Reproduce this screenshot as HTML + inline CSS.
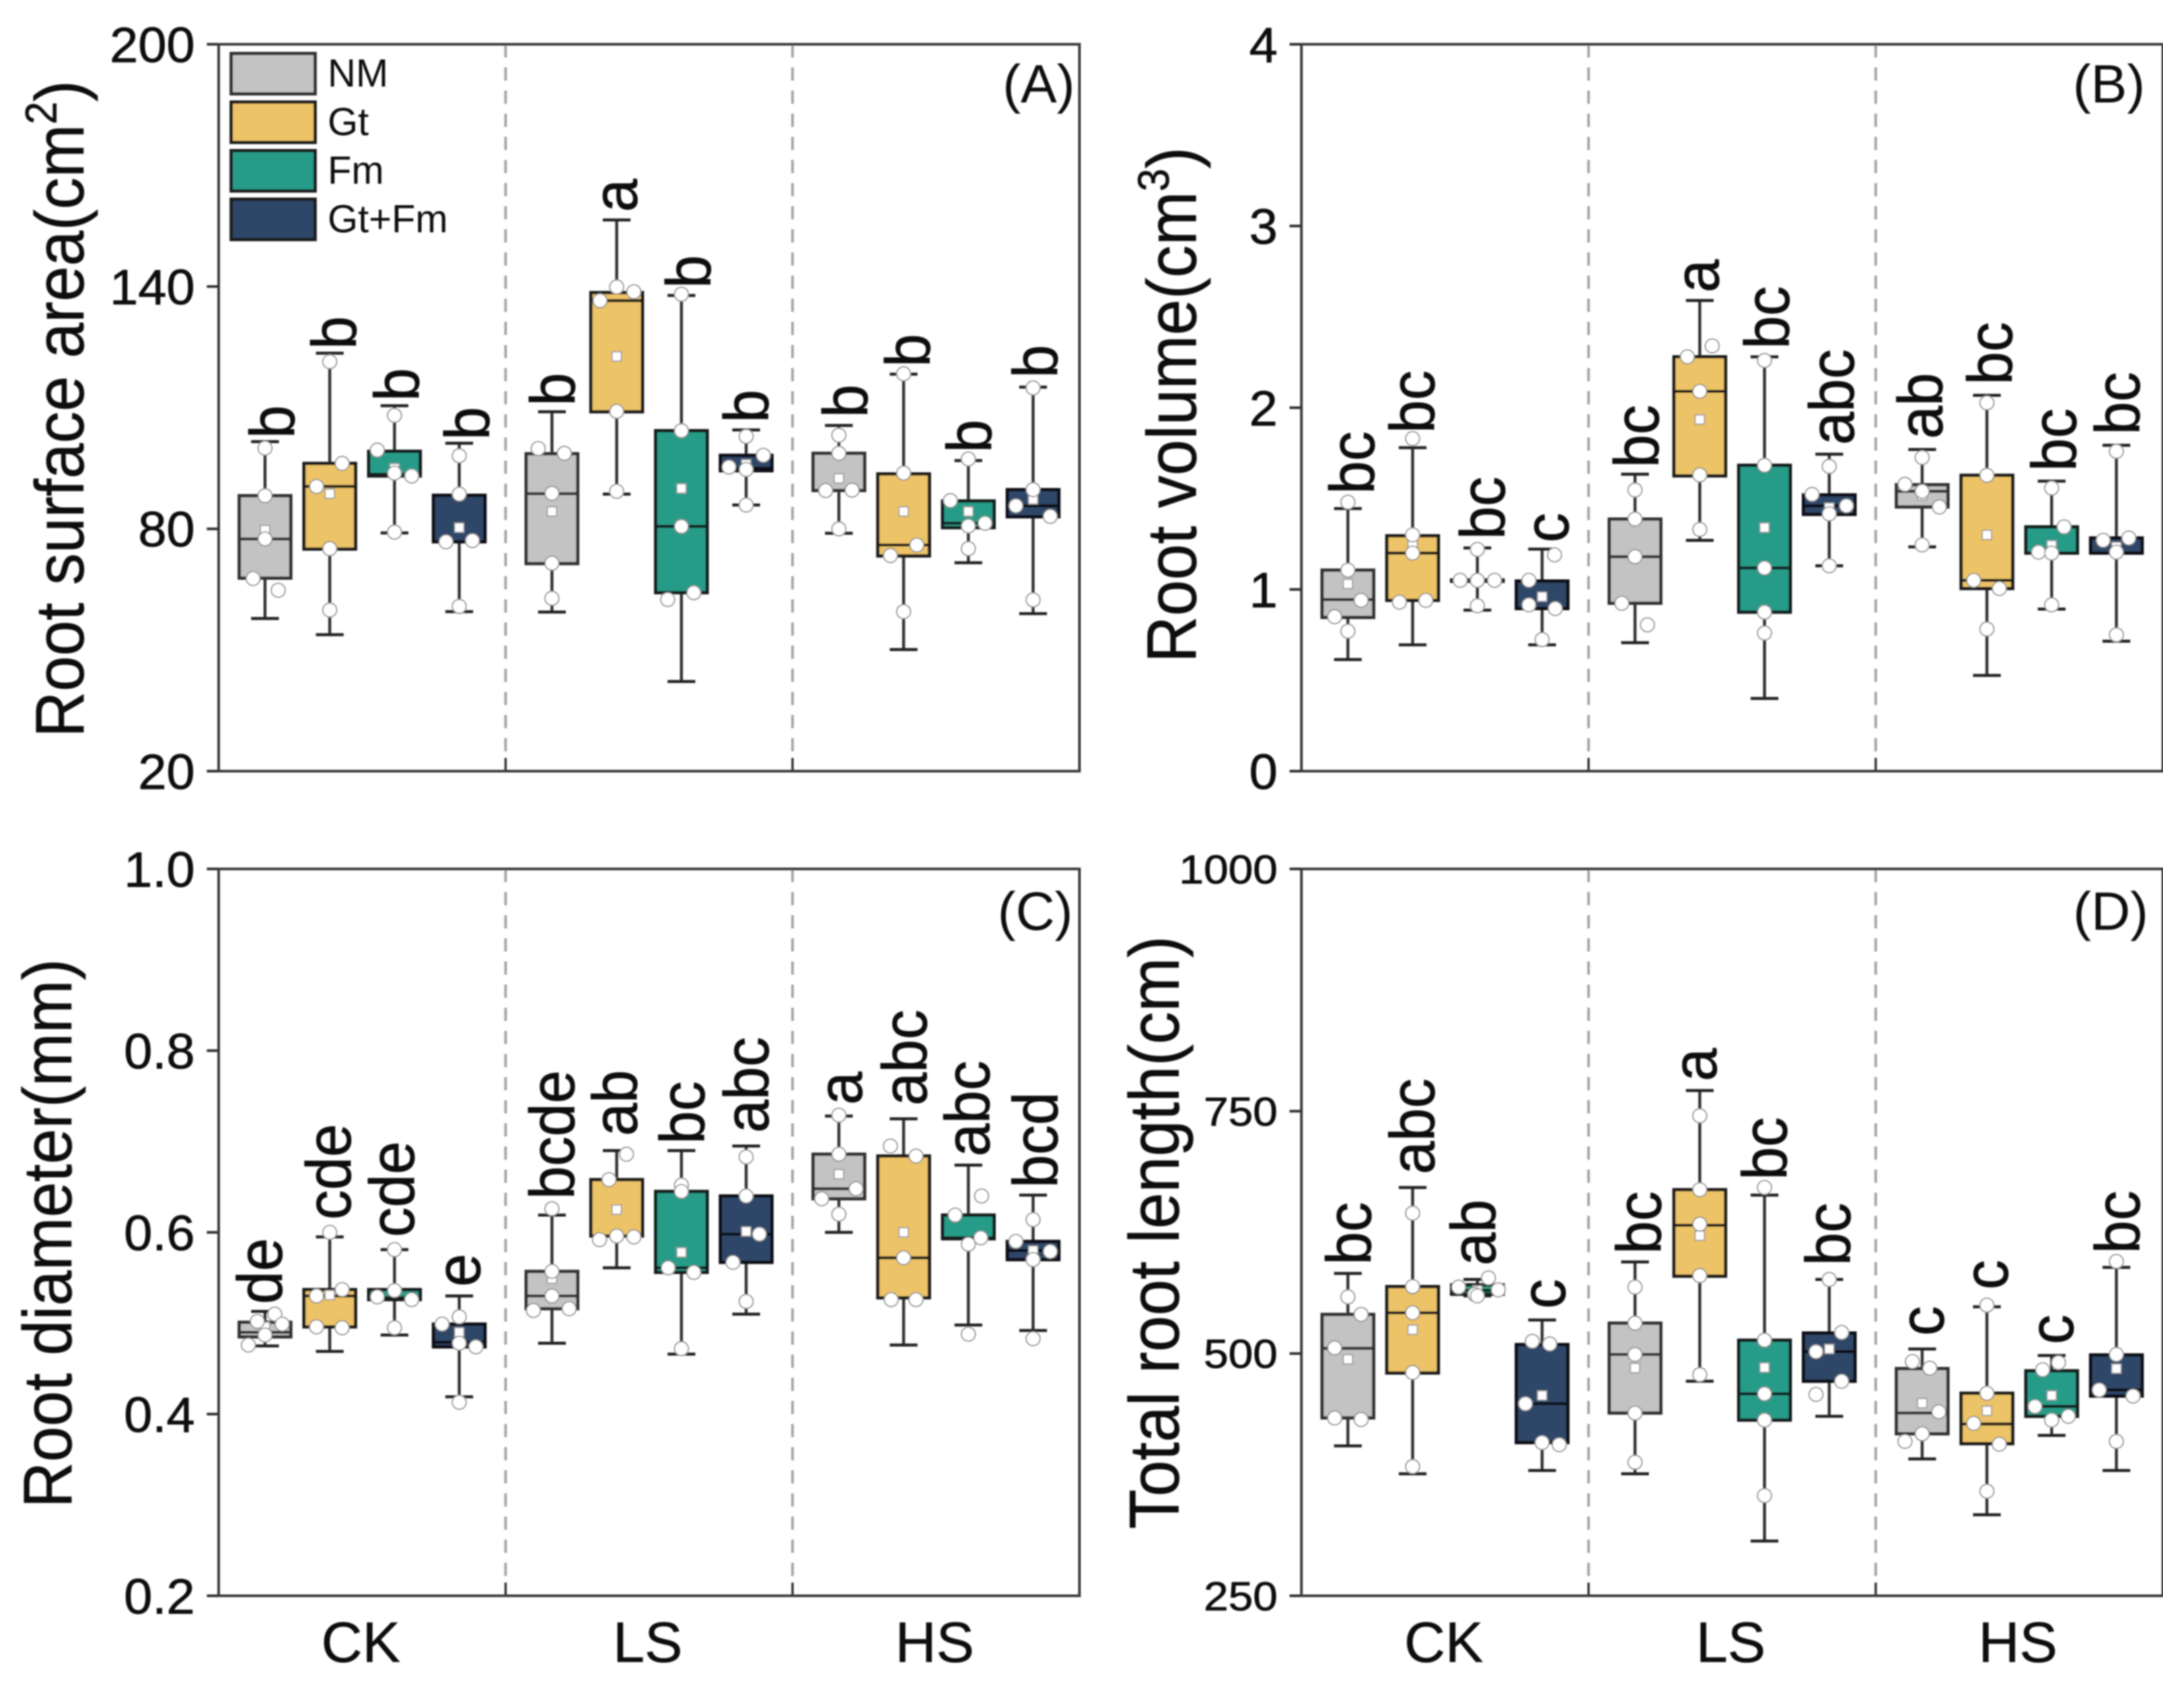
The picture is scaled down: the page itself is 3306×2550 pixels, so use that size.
<!DOCTYPE html>
<html lang="en">
<head>
<meta charset="utf-8">
<title>Root traits box plots</title>
<style>
html,body{margin:0;padding:0;background:#fff;}
svg{display:block;}
text{font-family:"Liberation Sans",Arial,sans-serif;fill:#111;}
</style>
</head>
<body>
<svg id="chart" xmlns="http://www.w3.org/2000/svg" width="3306" height="2550" viewBox="0 0 3306 2550">
<defs><filter id="soft" x="0" y="0" width="100%" height="100%"><feGaussianBlur stdDeviation="1.1"/></filter></defs>
<rect width="3306" height="2550" fill="#ffffff"/>
<g id="root" filter="url(#soft)"></g>
</svg>
<script>
const categories = ['CK','LS','HS'];
const treatments = ['NM','Gt','Fm','Gt+Fm'];

const aTicks = ['20','80','140','200'];
const aLow = [57.8,53.8,79,59.5,59.4,88.6,42.2,85.9,78.9,50.1,71.6,59];
const aQ1 = [67.8,75,93.1,76.8,71.4,109,64.2,94.4,89.5,73.3,80.3,83];
const aMedian = [77.5,90.5,93.5,76.8,88.7,136.5,80.6,95,89.5,76,81.4,85.7];
const aQ3 = [88.2,96.2,99.2,88.3,98.6,138.5,104.3,98.2,98.7,93.6,86.9,89.7];
const aHigh = [101.6,123.5,110.5,101.2,109,156.5,137.8,104.5,105.6,118.3,96.9,115.1];
const aMean = [79.7,88.7,95,80.3,84.3,122.7,90,96,92.5,84.3,84.3,87.3];
const aPoints = [
 [100,88.2,77.5,67.7,64.8],[121.4,96.2,90.5,75.1,59.9],[108.1,99.5,93.8,93.1,79.2],[98.1,88.6,76.8,77.1,60.8],
 [99.9,98.7,88.8,71.5,62.8],[139.9,136.5,138.7,109.1,89.3],[138.1,104.3,80.6,64.2,62.5],[102.9,98.2,95.3,94.7,85.9],
 [103.2,98.7,89.5,89.6,80],[118.4,93.8,76,73.4,59.5],[97.3,87,80.7,81.4,75.1],[114.9,89.7,85.7,83.1,62.4]];
const aDodge = [
 [0,0,0,-.45,.5],[0,.47,-.5,0,0],[0,-.65,0,.65,0],[0,0,-.5,.5,0],
 [-.52,.47,0,0,0],[0,-.63,.65,0,0],[0,0,0,.47,-.52],[0,.65,-.65,0,0],
 [0,0,-.5,.5,0],[0,0,.5,-.5,0],[0,-.68,0,.63,0],[0,0,-.65,.65,0]];
const aLetters = ['b','b','b','b','b','a','b','b','b','b','b','b'];

const bTicks = ['0','1','2','3','4'];
const bLow = [.614,.695,.886,.695,.707,1.27,.4,1.13,1.234,.527,.892,.715];
const bQ1 = [.846,.94,1.045,.895,.924,1.625,.875,1.413,1.454,1.005,1.2,1.2];
const bMedian = [.944,1.2,1.05,.895,1.18,2.09,1.118,1.46,1.54,1.05,1.2,1.2];
const bQ3 = [1.106,1.295,1.052,1.046,1.387,2.28,1.683,1.52,1.576,1.628,1.344,1.283];
const bHigh = [1.445,1.78,1.228,1.222,1.634,2.59,2.28,1.744,1.77,2.068,1.596,1.793];
const bMean = [1.03,1.25,1.05,.96,1.18,1.935,1.34,1.45,1.518,1.3,1.243,1.234];
const bPoints = [
 [1.48,1.106,.94,.85,.77],[1.83,1.3,1.2,.93,.94],[1.22,1.05,1.05,1.05,.91],[1.19,1.05,.915,.895,.724],
 [1.547,1.387,1.18,.924,.805],[2.34,2.28,2.09,1.63,1.33],[2.26,1.683,1.118,.875,.76],[1.677,1.523,1.46,1.416,1.13],
 [1.726,1.578,1.54,1.454,1.245],[2.027,1.628,1.05,1.005,.782],[1.558,1.344,1.205,1.2,.915],[1.76,1.27,1.283,1.205,.75]];
const bDodge = [
 [0,0,.5,-.5,0],[0,0,0,-.5,.5],[0,-.65,0,.65,0],[.47,-.5,-.5,.5,0],
 [0,0,0,-.5,.47],[.47,-.47,0,0,0],[0,0,0,0,0],[0,-.65,.65,0,0],
 [0,-.65,0,.65,0],[0,0,-.5,.47,0],[0,.47,-.5,0,0],[0,-.5,.47,0,0]];
const bLetters = ['bc','bc','bc','c','bc','a','bc','abc','ab','bc','bc','bc'];

const cTicks = ['0.2','0.4','0.6','0.8','1.0'];
const cLow = [.475,.469,.487,.419,.478,.561,.466,.51,.6,.476,.498,.492];
const cQ1 = [.485,.496,.526,.474,.516,.596,.556,.567,.637,.528,.593,.57];
const cMedian = [.49,.53,.528,.479,.53,.596,.561,.598,.648,.572,.594,.58];
const cQ3 = [.501,.537,.537,.499,.557,.658,.645,.64,.686,.684,.619,.59];
const cHigh = [.513,.595,.581,.53,.619,.69,.69,.695,.728,.725,.674,.641];
const cMean = [.496,.531,.535,.49,.549,.625,.578,.601,.664,.6,.587,.58];
const cPoints = [
 [.51,.502,.499,.487,.476],[.6,.537,.53,.496,.495],[.581,.536,.529,.526,.495],[.507,.499,.478,.474,.413],
 [.626,.557,.53,.514,.516],[.686,.658,.596,.592,.595],[.652,.645,.561,.556,.472],[.683,.64,.598,.567,.524],
 [.729,.686,.648,.637,.62],[.695,.684,.572,.526,.526],[.64,.619,.594,.587,.488],[.614,.59,.579,.57,.483]];
const cDodge = [
 [.37,-.29,.65,0,-.63],[0,.47,-.5,-.5,.47],[0,0,-.65,.65,0],[0,-.65,0,.63,0],
 [0,0,0,-.7,.65],[.37,-.29,0,-.65,.65],[0,0,-.5,.47,0],[0,0,.5,-.5,0],
 [0,0,.65,-.65,0],[-.5,.47,0,-.47,.47],[.5,-.5,.47,0,0],[0,-.65,.65,0,0]];
const cLetters = ['de','cde','cde','e','bcde','ab','bc','abc','a','abc','abc','bcd'];

const dTicks = ['250','500','750','1000'];
const dLow = [404.7,375.9,559.5,379.3,375.9,471.4,306.5,435.2,391.2,333.6,415.5,379.3];
const dQ1 = [433.6,479.9,561.2,408.1,438.6,579.8,431.3,471.4,417.2,407,435.2,456.1];
const dMedian = [505.3,542,565.1,448.2,499,632.3,458.4,501.9,438.6,427.3,445.4,462.4];
const dQ3 = [540.3,569,570.8,509.2,531.3,669,513.7,521.1,484.4,459,482.1,498.5];
const dHigh = [582.6,671.3,576.4,534.6,594.5,771.3,663.4,576.4,504.7,548.2,497.9,588.9];
const dMean = [494,524.5,565.1,456.7,485,621.6,485.5,504.7,448.8,440.9,456.7,484.4];
const dPoints = [
 [558.4,540.3,505.8,433.5,431.9],[644.8,569,542,480.4,383.3],[578,568.5,565.7,561,559.5],[512.6,509.8,448.2,408.1,405.9],
 [568.5,531.3,499,438.6,387.8],[745.3,669,633.5,580.4,478.2],[671.3,513.7,458.4,431.3,353.4],[576.4,521.7,501.9,471.4,457.8],
 [491.7,484.9,439.8,417.2,409.3],[549.9,459,427.9,406.4,357.9],[490.6,483.2,445.4,435.2,431.3],[595,499,462.4,456.1,409.3]];
const dDodge = [
 [0,.5,-.5,-.5,.5],[0,0,0,0,0],[.42,-.71,.79,-.1,0],[-.37,.29,-.63,0,.65],
 [0,0,0,0,0],[0,0,0,0,0],[0,0,0,0,0],[0,.47,-.5,.47,-.5],
 [-.37,.29,.63,0,-.65],[0,0,-.5,.47,0],[.26,-.34,-.63,.63,0],[0,0,-.65,.63,0]];
const dLetters = ['bc','abc','ab','c','bc','a','bc','bc','c','c','c','bc'];

const ns = 'http://www.w3.org/2000/svg';
const root = document.getElementById('root');
const fills = ['#c3c3c3','#ecc366','#289c88','#2e4667'];
const edges = ['#303030','#1f1f1f','#161f1e','#0e1014'];

function make(tag, parent, attrs) {
  const node = document.createElementNS(ns, tag);
  for (const k in attrs) node.setAttribute(k, attrs[k]);
  parent.appendChild(node);
  return node;
}

function drawPanel(p) {
  const W = p.right - p.left;
  const H = p.bottom - p.top;
  const yOf = function (v) { return p.bottom - (v - p.min) / (p.max - p.min) * H; };
  const xOf = function (i) {
    const g = Math.floor(i / 4);
    const s = i % 4;
    return p.left + W * (g + 0.5) / 3 + (s - 1.5) * 98;
  };

  const panel = make('g', root, {});
  
  

  categories.forEach(function (c, g) {
    if (g === 0) return;
    const sx = p.left + W * g / 3;
    const sep = make('line', panel, {x1: sx, x2: sx, y1: p.top, y2: p.bottom, stroke: '#a4a4a4', 'stroke-width': 4, 'stroke-dasharray': '20 15'});
    
    
    const stub = make('line', panel, {x1: sx, x2: sx, y1: p.bottom - 20, y2: p.bottom, stroke: '#333', 'stroke-width': 3.5});
    
    
  });

  const frame = make('rect', panel, {x: p.left, y: p.top, width: W, height: H, fill: 'none', stroke: '#3a3a3a', 'stroke-width': 4});
  
  

  p.ticks.forEach(function (t) {
    const ty = yOf(parseFloat(t));
    const tick = make('line', panel, {x1: p.left - 18, x2: p.left, y1: ty, y2: ty, stroke: '#333', 'stroke-width': 4});
    
    
    const lab = make('text', panel, {'font-size': p.tickSize, 'text-anchor': 'end', stroke: '#111', 'stroke-width': 0.8,
      transform: 'translate(' + (p.left - 36) + ',' + (ty + p.tickSize * 0.358) + ') scale(' + p.tickStretch + ',1)'});
    lab.textContent = t;
    
    
  });

  const yl = make('text', panel, {'font-size': p.titleSize, stroke: '#111', 'stroke-width': 0.6, transform: 'translate(' + p.titleX + ',' + p.titleY + ') rotate(-90) scale(1,1.08)'});
  
  
  yl.appendChild(document.createTextNode(p.title));
  if (p.sup) {
    const sup = make('tspan', yl, {dy: -38, 'font-size': 62});
    sup.textContent = p.sup;
    const close = make('tspan', yl, {dy: 38});
    close.textContent = ')';
  }

  const tag = make('text', panel, {x: p.tagX, y: p.tagY, 'font-size': 82, 'text-anchor': 'end'});
  tag.textContent = p.tag;
  
  

  if (p.xlabels) {
    categories.forEach(function (c, g) {
      const xl = make('text', panel, {x: p.left + W * (g + 0.5) / 3 - 2, y: p.bottom + 100, 'font-size': 86, 'text-anchor': 'middle', stroke: '#111', 'stroke-width': 0.6});
      xl.textContent = c;
      
      
    });
  }

  p.median.forEach(function (m, i) {
    const s = i % 4;
    const cx = xOf(i);
    const box = make('g', panel, {});
    
    
    const edge = edges[s];
    make('line', box, {x1: cx, x2: cx, y1: yOf(p.high[i]), y2: yOf(p.low[i]), stroke: '#333', 'stroke-width': 4.5});
    make('line', box, {x1: cx - 21, x2: cx + 21, y1: yOf(p.high[i]), y2: yOf(p.high[i]), stroke: '#222', 'stroke-width': 4.5});
    make('line', box, {x1: cx - 21, x2: cx + 21, y1: yOf(p.low[i]), y2: yOf(p.low[i]), stroke: '#222', 'stroke-width': 4.5});
    make('rect', box, {x: cx - 39, y: yOf(p.q3[i]), width: 78, height: Math.max(0.5, yOf(p.q1[i]) - yOf(p.q3[i])), fill: fills[s], stroke: edge, 'stroke-width': 5});
    make('line', box, {x1: cx - 39, x2: cx + 39, y1: yOf(m), y2: yOf(m), stroke: edge, 'stroke-width': 4.5});
    make('rect', box, {x: cx - 7, y: yOf(p.mean[i]) - 7, width: 14, height: 14, fill: '#fff', stroke: '#999', 'stroke-width': 1.8});
    p.points[i].forEach(function (v, j) {
      make('circle', box, {cx: cx + p.dodge[i][j] * 40, cy: yOf(v), r: 10.5, fill: '#fff', stroke: '#8a8a8a', 'stroke-width': 1.8});
    });
    const letter = make('text', panel, {'font-size': 90, stroke: '#111', 'stroke-width': 0.8,
      transform: 'translate(' + (cx + p.letterShift[i] * 1.05) + ',' + (yOf(p.high[i]) - p.letterGap[i]) + ') rotate(-90) scale(1,1.06)'});
    letter.textContent = p.letters[i];
    
    
  });
}

drawPanel({id: 'a', left: 331, right: 1634, top: 67, bottom: 1167, min: 20, max: 200, ticks: aTicks,
  tickSize: 75, tickStretch: 1.03, title: 'Root surface area(cm', titleSize: 96.5, sup: '2', titleX: 126, titleY: 1116,
  tag: '(A)', tagX: 1627, tagY: 155, xlabels: false,
  low: aLow, q1: aQ1, median: aMedian, q3: aQ3, high: aHigh, mean: aMean, points: aPoints, dodge: aDodge, letters: aLetters,
  letterShift: [42,38,35,43,33,29,42,32,41,38,33,35], letterGap: [5,6,7,5,9,12,11,11,12,11,12,14]});
drawPanel({id: 'b', left: 1970, right: 3274, top: 67, bottom: 1167, min: 0, max: 4, ticks: bTicks,
  tickSize: 75, tickStretch: 1.03, title: 'Root volume(cm', titleSize: 98, sup: '3', titleX: 1810, titleY: 1003,
  tag: '(B)', tagX: 3247, tagY: 155, xlabels: false,
  low: bLow, q1: bQ1, median: bMedian, q3: bQ3, high: bHigh, mean: bMean, points: bPoints, dodge: bDodge, letters: bLetters,
  letterShift: [38,31,39,38,34,27,35,35,29,36,35,33], letterGap: [22,22,13,10,10,12,12,14,16,16,15,16]});
drawPanel({id: 'c', left: 331, right: 1634, top: 1315, bottom: 2415, min: 0.2, max: 1, ticks: cTicks,
  tickSize: 75, tickStretch: 1.03, title: 'Root diameter(mm)', titleSize: 96.5, sup: '', titleX: 108, titleY: 2282,
  tag: '(C)', tagX: 1624, tagY: 1407, xlabels: true,
  low: cLow, q1: cQ1, median: cMedian, q3: cQ3, high: cHigh, mean: cMean, points: cPoints, dodge: cDodge, letters: cLetters,
  letterShift: [24,30,28,30,32,29,33,32,33,33,30,35], letterGap: [11,26,19,14,24,22,10,20,17,20,13,11]});
drawPanel({id: 'd', left: 1970, right: 3274, top: 1315, bottom: 2415, min: 250, max: 1000, ticks: dTicks,
  tickSize: 61, tickStretch: 1.1, title: 'Total root length(cm)', titleSize: 98.5, sup: '', titleX: 1784, titleY: 2314,
  tag: '(D)', tagX: 3252, tagY: 1407, xlabels: true,
  low: dLow, q1: dQ1, median: dMedian, q3: dQ3, high: dHigh, mean: dMean, points: dPoints, dodge: dDodge, letters: dLetters,
  letterShift: [33,31,26,33,37,24,32,30,31,30,31,33], letterGap: [13,20,21,17,12,14,23,21,20,26,17,21]});

const legend = make('g', root, {});


treatments.forEach(function (t, i) {
  const entry = make('g', legend, {});
  
  
  make('rect', entry, {x: 350, y: 81 + i * 73.5, width: 127, height: 61, fill: fills[i], stroke: i === 0 ? '#333' : '#1f1f1f', 'stroke-width': 5});
  const lab = make('text', entry, {x: 496, y: 131 + i * 73.5, 'font-size': 59});
  lab.textContent = t;
});
</script>
</body>
</html>
